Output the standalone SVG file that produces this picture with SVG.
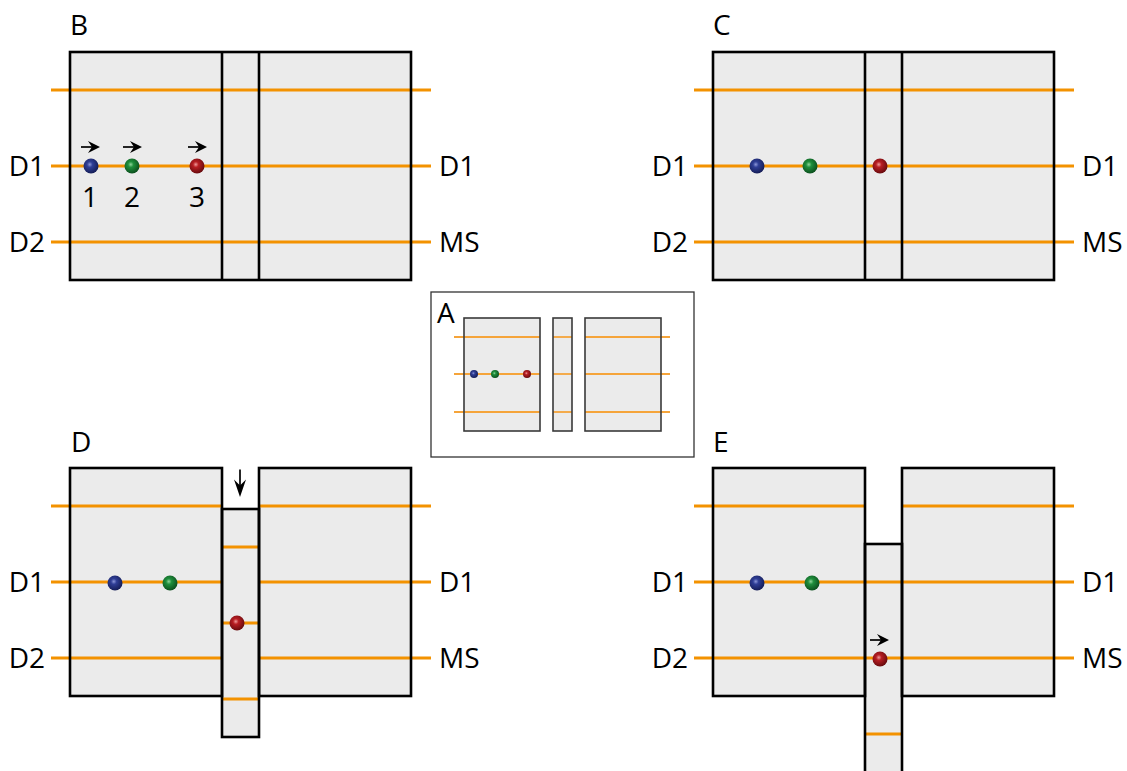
<svg xmlns="http://www.w3.org/2000/svg" width="1127" height="771" viewBox="0 0 1127 771">
<style>
.box{fill:#ebebeb;stroke:none}
.ol{fill:none;stroke:#000;stroke-width:2.6}
.or{stroke:#f39200;stroke-width:3;fill:none}
.ori{stroke:#f5a43a;stroke-width:1.8;fill:none}
.oli{fill:none;stroke:#3a3a3a;stroke-width:1.6}
.t{font-family:"Open Sans","Liberation Sans",sans-serif;font-size:28px;fill:#000}
.ar{stroke:#000;stroke-width:1.7;fill:none}
</style>
<defs>
<radialGradient id="gb" cx="0.42" cy="0.4" r="0.62">
<stop offset="0" stop-color="#8b96d8"/><stop offset="0.3" stop-color="#2f3e96"/><stop offset="1" stop-color="#141c55"/>
</radialGradient>
<radialGradient id="gg" cx="0.42" cy="0.4" r="0.62">
<stop offset="0" stop-color="#8fd59a"/><stop offset="0.3" stop-color="#1f8f3c"/><stop offset="1" stop-color="#0b4d1c"/>
</radialGradient>
<radialGradient id="gr" cx="0.42" cy="0.4" r="0.62">
<stop offset="0" stop-color="#ef9a9a"/><stop offset="0.3" stop-color="#b81e23"/><stop offset="1" stop-color="#650a0d"/>
</radialGradient>
<g id="arr"><line class="ar" x1="-19" y1="0" x2="-5" y2="0"/><path d="M0,0 L-12,-6 L-8,0 L-12,6 Z" fill="#000"/></g>
</defs>

<g id="panelB">
<rect class="box" x="70" y="52" width="341" height="228"/>
<line class="or" x1="51" y1="90" x2="431" y2="90"/>
<line class="or" x1="51" y1="166" x2="431" y2="166"/>
<line class="or" x1="51" y1="242" x2="431" y2="242"/>
<rect class="ol" x="70" y="52" width="341" height="228"/>
<line class="ol" x1="222" y1="52" x2="222" y2="280"/>
<line class="ol" x1="259" y1="52" x2="259" y2="280"/>
<circle cx="91" cy="166" r="7.5" fill="url(#gb)"/>
<circle cx="132" cy="166" r="7.5" fill="url(#gg)"/>
<circle cx="197" cy="166" r="7.5" fill="url(#gr)"/>
<text class="t" x="70" y="35">B</text>
<text class="t" x="45" y="176" text-anchor="end">D1</text>
<text class="t" x="45" y="252" text-anchor="end">D2</text>
<text class="t" x="439" y="176">D1</text>
<text class="t" x="439" y="252">MS</text>
<text class="t" x="90" y="207" text-anchor="middle">1</text>
<text class="t" x="132" y="207" text-anchor="middle">2</text>
<text class="t" x="197" y="207" text-anchor="middle">3</text>
</g>

<g id="panelC">
<rect class="box" x="713" y="52" width="341" height="228"/>
<line class="or" x1="694" y1="90" x2="1074" y2="90"/>
<line class="or" x1="694" y1="166" x2="1074" y2="166"/>
<line class="or" x1="694" y1="242" x2="1074" y2="242"/>
<rect class="ol" x="713" y="52" width="341" height="228"/>
<line class="ol" x1="865" y1="52" x2="865" y2="280"/>
<line class="ol" x1="902" y1="52" x2="902" y2="280"/>
<circle cx="757" cy="166" r="7.5" fill="url(#gb)"/>
<circle cx="810" cy="166" r="7.5" fill="url(#gg)"/>
<circle cx="880" cy="166" r="7.5" fill="url(#gr)"/>
<text class="t" x="713" y="35">C</text>
<text class="t" x="688" y="176" text-anchor="end">D1</text>
<text class="t" x="688" y="252" text-anchor="end">D2</text>
<text class="t" x="1082" y="176">D1</text>
<text class="t" x="1082" y="252">MS</text>
</g>

<g id="panelA">
<rect x="431" y="292" width="263" height="165" fill="#fff" stroke="#333" stroke-width="1.3"/>
<rect class="box" x="464" y="318" width="76" height="113"/>
<rect class="box" x="553" y="318" width="19" height="113"/>
<rect class="box" x="585" y="318" width="76" height="113"/>
<g class="ori">
<line x1="454" y1="337" x2="540" y2="337"/><line x1="553" y1="337" x2="572" y2="337"/><line x1="585" y1="337" x2="670" y2="337"/>
<line x1="454" y1="374" x2="540" y2="374"/><line x1="553" y1="374" x2="572" y2="374"/><line x1="585" y1="374" x2="670" y2="374"/>
<line x1="454" y1="412" x2="540" y2="412"/><line x1="553" y1="412" x2="572" y2="412"/><line x1="585" y1="412" x2="670" y2="412"/>
</g>
<rect class="oli" x="464" y="318" width="76" height="113"/>
<rect class="oli" x="553" y="318" width="19" height="113"/>
<rect class="oli" x="585" y="318" width="76" height="113"/>
<circle cx="474" cy="374" r="4" fill="url(#gb)"/>
<circle cx="495" cy="374" r="4" fill="url(#gg)"/>
<circle cx="527" cy="374" r="4" fill="url(#gr)"/>
<text class="t" x="437" y="323">A</text>
</g>

<g id="panelD">
<rect class="box" x="70" y="468" width="152" height="228"/>
<rect class="box" x="259" y="468" width="152" height="228"/>
<rect class="box" x="222" y="509" width="37" height="228"/>
<line class="or" x1="51" y1="506" x2="222" y2="506"/><line class="or" x1="259" y1="506" x2="431" y2="506"/>
<line class="or" x1="51" y1="582" x2="222" y2="582"/><line class="or" x1="259" y1="582" x2="431" y2="582"/>
<line class="or" x1="51" y1="658" x2="222" y2="658"/><line class="or" x1="259" y1="658" x2="431" y2="658"/>
<line class="or" x1="222" y1="547" x2="259" y2="547"/>
<line class="or" x1="222" y1="623" x2="259" y2="623"/>
<line class="or" x1="222" y1="699" x2="259" y2="699"/>
<rect class="ol" x="70" y="468" width="152" height="228"/>
<rect class="ol" x="259" y="468" width="152" height="228"/>
<rect class="ol" x="222" y="509" width="37" height="228"/>
<circle cx="115" cy="583" r="7.5" fill="url(#gb)"/>
<circle cx="170" cy="583" r="7.5" fill="url(#gg)"/>
<circle cx="237" cy="623" r="7.5" fill="url(#gr)"/>
<text class="t" x="71" y="452">D</text>
<text class="t" x="45" y="592" text-anchor="end">D1</text>
<text class="t" x="45" y="668" text-anchor="end">D2</text>
<text class="t" x="439" y="592">D1</text>
<text class="t" x="439" y="668">MS</text>
</g>

<g id="panelE">
<rect class="box" x="713" y="468" width="152" height="228"/>
<rect class="box" x="902" y="468" width="152" height="228"/>
<rect class="box" x="865" y="544" width="37" height="240"/>
<line class="or" x1="694" y1="506" x2="865" y2="506"/><line class="or" x1="902" y1="506" x2="1074" y2="506"/>
<line class="or" x1="694" y1="582" x2="1074" y2="582"/>
<line class="or" x1="694" y1="658" x2="1074" y2="658"/>
<line class="or" x1="865" y1="734" x2="902" y2="734"/>
<rect class="ol" x="713" y="468" width="152" height="228"/>
<rect class="ol" x="902" y="468" width="152" height="228"/>
<rect class="ol" x="865" y="544" width="37" height="240"/>
<circle cx="757" cy="583" r="7.5" fill="url(#gb)"/>
<circle cx="812" cy="583" r="7.5" fill="url(#gg)"/>
<circle cx="880" cy="659" r="7.5" fill="url(#gr)"/>
<text class="t" x="713" y="452">E</text>
<text class="t" x="688" y="592" text-anchor="end">D1</text>
<text class="t" x="688" y="668" text-anchor="end">D2</text>
<text class="t" x="1082" y="592">D1</text>
<text class="t" x="1082" y="668">MS</text>
</g>

<g id="connectors">
<use href="#arr" transform="translate(100,147)"/>
<use href="#arr" transform="translate(142,147)"/>
<use href="#arr" transform="translate(207,147)"/>
<use href="#arr" transform="translate(240,497) rotate(90) scale(1.45,1)"/>
<use href="#arr" transform="translate(889,640)"/>
</g>
</svg>
